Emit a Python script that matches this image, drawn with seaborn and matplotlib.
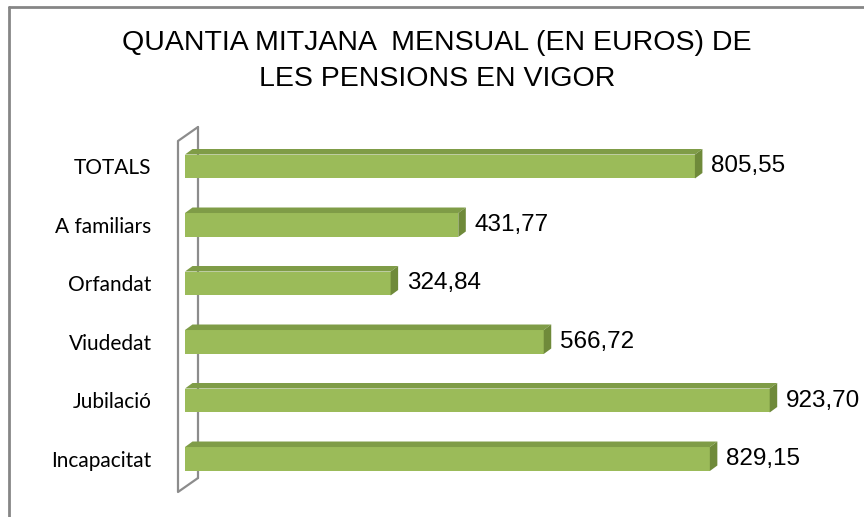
import matplotlib
matplotlib.use("Agg")
import matplotlib.pyplot as plt
from matplotlib.patches import Polygon
from matplotlib.lines import Line2D
import seaborn as sns
import pandas as pd

categories = ["TOTALS", "A familiars", "Orfandat", "Viudedat", "Jubilació", "Incapacitat"]
values = [805.55, 431.77, 324.84, 566.72, 923.70, 829.15]
value_labels = ["805,55", "431,77", "324,84", "566,72", "923,70", "829,15"]
title = "QUANTIA MITJANA  MENSUAL (EN EUROS) DE\nLES PENSIONS EN VIGOR"

df = pd.DataFrame({"cat": categories, "val": values})

sns.set_theme(style="white")
plt.rcParams["font.family"] = ["Liberation Sans", "DejaVu Sans"]

W, H = 864, 517
fig = plt.figure(figsize=(W / 100, H / 100), dpi=100)

# axes placement in pixels
x0_px = 185
px_per_unit = 0.633
xmax = 1000
ax_w = xmax * px_per_unit
pitch = 58.5
c0 = 166.5
top_px = c0 - 0.5 * pitch
ax_h = 6 * pitch
ax = fig.add_axes([x0_px / W, (H - top_px - ax_h) / H, ax_w / W, ax_h / H])

front = "#9BBB59"
topc = "#7F9C47"
side = "#6F8A3A"

sns.barplot(data=df, x="val", y="cat", orient="h", color=front, width=0.41,
            saturation=1, ax=ax, zorder=3)
ax.set_xlim(0, xmax)
ax.set_ylim(5.5, -0.5)
for s in ax.spines.values():
    s.set_visible(False)
ax.set_xticks([])
ax.set_xlabel("")
ax.set_ylabel("")
ax.tick_params(axis="y", length=0, pad=24)
ax.set_yticks(range(len(categories)))
ax.set_yticklabels(categories, fontsize=15, family=["Lato", "DejaVu Sans"], color="#000000")

# 3D offsets in data units
dx = 7.5 / px_per_unit
dy = 5.5 / pitch
for p, lab in zip(ax.patches, value_labels):
    x = p.get_x()
    w = p.get_width()
    y = p.get_y()  # top edge in data (smaller value = higher)
    h = p.get_height()
    p.set_edgecolor("none")
    top_face = Polygon([(x, y), (x + dx, y - dy), (x + w + dx, y - dy), (x + w, y)],
                       closed=True, facecolor=topc, edgecolor="none", zorder=3)
    side_face = Polygon([(x + w, y), (x + w + dx, y - dy), (x + w + dx, y + h - dy), (x + w, y + h)],
                        closed=True, facecolor=side, edgecolor="none", zorder=3)
    ax.add_patch(top_face)
    ax.add_patch(side_face)
    ax.text(x + w + dx + 9 / px_per_unit, y + h / 2, lab, va="center", ha="left",
            fontsize=17.5, color="#000000", zorder=4)

# back wall outline
wx_f = (178 - x0_px) / px_per_unit
wx_b = (198 - x0_px) / px_per_unit
wy_top_f = (141 - c0) / pitch
wy_top_b = (127 - c0) / pitch
wy_bot_f = (492 - c0) / pitch
wy_bot_b = (478 - c0) / pitch
wall_kw = dict(color="#8C8C8C", lw=1.6, clip_on=False, zorder=1)
ax.plot([wx_b, wx_f, wx_f, wx_b], [wy_top_b, wy_top_f, wy_bot_f, wy_bot_b], **wall_kw)
ax.plot([wx_b, wx_b], [wy_top_b, wy_bot_b], **wall_kw)

fig.text(437 / W, 1 - 61 / H, title, ha="center", va="center", fontsize=20.5,
         linespacing=1.45, color="#000000")

# chart frame (top and left only)
fig.add_artist(Line2D([9 / W, 1], [1 - 6.5 / H, 1 - 6.5 / H], color="#868686", lw=2,
                      transform=fig.transFigure))
fig.add_artist(Line2D([9 / W, 9 / W], [0, 1 - 6.5 / H], color="#868686", lw=2,
                      transform=fig.transFigure))

fig.savefig("out.png", dpi=100)
